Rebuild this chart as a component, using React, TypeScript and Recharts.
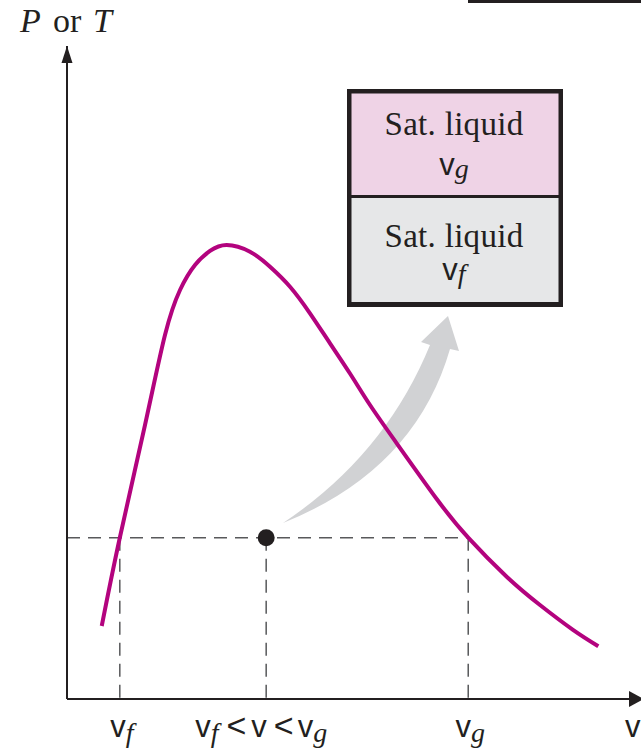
import React from "react";
import {
  ComposedChart,
  Line,
  XAxis,
  YAxis,
  ReferenceLine,
  ReferenceDot,
} from "recharts";

// specific volume (x) against P or T (y), arbitrary units
const curveV = [
  6.05, 9.2, 13.59, 17.07, 19.69, 22.3, 24.91, 27.82, 31.88, 35.37, 38.85,
  42.33, 45.82, 49.3, 52.79, 57.44, 64.41, 69.9, 76.6, 82.4, 88.15, 92.56,
];
const curveP = [
  11.18, 24.7, 41.96, 55.74, 62.63, 66.46, 68.61, 69.53, 68.5, 66.2, 63.14,
  59.07, 54.47, 49.85, 45.02, 39.16, 30.63, 24.7, 18.73, 14.4, 10.6, 8.09,
];

const vf = 9.2;
const vMix = 34.7;
const vg = 69.9;
const pSat = 24.7;
const vMax = 100;
const pMax = 100;

const tickValues = [vf, vMix, vg, vMax];
const tickKinds = ["vf", "mix", "vg", "v"];

const data = curveV.map((v, i) => ({ v, p: curveP[i] }));

const INK = "#231f20";
const MAGENTA = "#b3037e";
const DASH = "#58595b";
const SANS = "'Liberation Sans', Arial, sans-serif";
const SERIF = "'Liberation Serif', 'Times New Roman', serif";
const V_SIZE = 31;
const SUB_SIZE = 28;

const AxisTick = (props: any) => {
  const { x, y, payload } = props;
  const base = y + 38;
  const kind = tickKinds[tickValues.indexOf(payload.value)];
  if (kind === "vf" || kind === "vg") {
    return (
      <text x={x + 2} y={base} textAnchor="middle" fill={INK}>
        <tspan fontFamily={SANS} fontSize={V_SIZE}>v</tspan>
        <tspan fontFamily={SERIF} fontStyle="italic" fontSize={SUB_SIZE} dy={5}>
          {kind === "vf" ? "f" : "g"}
        </tspan>
      </text>
    );
  }
  if (kind === "mix") {
    return (
      <text x={x - 5} y={base} textAnchor="middle" fill={INK}>
        <tspan fontFamily={SANS} fontSize={V_SIZE}>v</tspan>
        <tspan fontFamily={SERIF} fontStyle="italic" fontSize={SUB_SIZE} dy={5}>f</tspan>
        <tspan fontFamily={SANS} fontSize={34} dy={-5} dx={8}>&lt;</tspan>
        <tspan fontFamily={SANS} fontSize={V_SIZE} dx={5}>v</tspan>
        <tspan fontFamily={SANS} fontSize={34} dx={7}>&lt;</tspan>
        <tspan fontFamily={SANS} fontSize={V_SIZE} dx={4}>v</tspan>
        <tspan fontFamily={SERIF} fontStyle="italic" fontSize={SUB_SIZE} dy={5}>g</tspan>
      </text>
    );
  }
  return (
    <text x={x - 16} y={base} fill={INK} fontFamily={SANS} fontSize={V_SIZE}>
      v
    </text>
  );
};

const RightArrow = (props: any) => {
  const { cx, cy } = props;
  return (
    <polygon
      points={`${cx + 3},${cy} ${cx - 12},${cy - 8} ${cx - 12},${cy + 8}`}
      fill={INK}
    />
  );
};

const UpArrow = (props: any) => {
  const { cx, cy } = props;
  return (
    <polygon
      points={`${cx},${cy} ${cx - 5.5},${cy + 17} ${cx + 5.5},${cy + 17}`}
      fill={INK}
    />
  );
};

const App = () => {
  return (
    <div
      style={{
        position: "absolute",
        left: 0,
        top: 0,
        width: 641,
        height: 751,
        overflow: "hidden",
        background: "#fff",
      }}
    >
      {/* grey curved arrow, sits behind the curve */}
      <svg
        width={641}
        height={751}
        style={{ position: "absolute", left: 0, top: 0 }}
      >
        <path
          d="M 283 523 Q 385 455 430 345 L 421 342 L 448 316 L 459 351 L 450 349 Q 415 470 283 523 Z"
          fill="#d1d2d4"
        />
      </svg>

      <div style={{ position: "absolute", left: 0, top: 0 }}>
        <ComposedChart
          width={641}
          height={751}
          data={data}
          margin={{ top: 46, right: 0, bottom: 0, left: 0 }}
        >
          <XAxis
            type="number"
            dataKey="v"
            domain={[0, vMax]}
            ticks={tickValues}
            interval={0}
            tick={<AxisTick />}
            tickLine={false}
            tickSize={0}
            tickMargin={0}
            axisLine={{ stroke: INK, strokeWidth: 2 }}
            height={52}
            allowDataOverflow
          />
          <YAxis
            type="number"
            domain={[0, pMax]}
            tick={false}
            tickLine={false}
            axisLine={{ stroke: INK, strokeWidth: 2 }}
            width={67}
            allowDataOverflow
          />
          <ReferenceLine
            segment={[{ x: 0, y: pSat }, { x: vg, y: pSat }]}
            stroke={DASH}
            strokeWidth={1.5}
            strokeDasharray="13 8"
          />
          <ReferenceLine
            segment={[{ x: vf, y: pSat }, { x: vf, y: 0 }]}
            stroke={DASH}
            strokeWidth={1.5}
            strokeDasharray="13 8"
          />
          <ReferenceLine
            segment={[{ x: vMix, y: pSat }, { x: vMix, y: 0 }]}
            stroke={DASH}
            strokeWidth={1.5}
            strokeDasharray="13 8"
          />
          <ReferenceLine
            segment={[{ x: vg, y: pSat }, { x: vg, y: 0 }]}
            stroke={DASH}
            strokeWidth={1.5}
            strokeDasharray="13 8"
          />
          <Line
            type="natural"
            dataKey="p"
            stroke={MAGENTA}
            strokeWidth={4}
            dot={false}
            isAnimationActive={false}
          />
          <ReferenceDot
            x={vMix}
            y={pSat}
            r={8.5}
            fill={INK}
            stroke="none"
            ifOverflow="visible"
          />
          <ReferenceDot
            x={vMax}
            y={0}
            ifOverflow="visible"
            shape={(p: any) => <RightArrow {...p} />}
          />
          <ReferenceDot
            x={0}
            y={pMax}
            ifOverflow="visible"
            shape={(p: any) => <UpArrow {...p} />}
          />
        </ComposedChart>
      </div>

      {/* axis title, inset box, and the cropped frame edge */}
      <svg
        width={641}
        height={751}
        style={{ position: "absolute", left: 0, top: 0, pointerEvents: "none" }}
      >
        <rect x={468} y={0} width={173} height={3} fill={INK} />
        <text y={32} fill={INK} fontFamily={SERIF} fontSize={34}>
          <tspan x={20} fontStyle="italic">P</tspan>
          <tspan x={53}>or</tspan>
          <tspan x={93} fontStyle="italic">T</tspan>
        </text>

        <rect x={347} y={89} width={216} height={218} fill={INK} />
        <rect x={351.5} y={93.5} width={207} height={101.5} fill="#efd3e6" />
        <rect x={351.5} y={198} width={207} height={104} fill="#e6e7e8" />

        <text
          x={454}
          y={135}
          textAnchor="middle"
          fill={INK}
          fontFamily={SERIF}
          fontSize={33}
          letterSpacing={0.3}
        >
          Sat. liquid
        </text>
        <text x={454} y={175} textAnchor="middle" fill={INK}>
          <tspan fontFamily={SANS} fontSize={V_SIZE}>v</tspan>
          <tspan fontFamily={SERIF} fontStyle="italic" fontSize={SUB_SIZE} dy={3}>g</tspan>
        </text>
        <text
          x={454}
          y={247}
          textAnchor="middle"
          fill={INK}
          fontFamily={SERIF}
          fontSize={33}
          letterSpacing={0.3}
        >
          Sat. liquid
        </text>
        <text x={454} y={280} textAnchor="middle" fill={INK}>
          <tspan fontFamily={SANS} fontSize={V_SIZE}>v</tspan>
          <tspan fontFamily={SERIF} fontStyle="italic" fontSize={SUB_SIZE} dy={3}>f</tspan>
        </text>
      </svg>
    </div>
  );
};

export default App;
